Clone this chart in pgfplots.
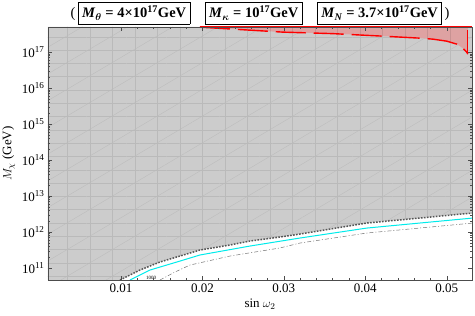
\documentclass[border=0pt]{standalone}
\usepackage{fontspec}
\setmainfont{Liberation Serif}
\usepackage{amsmath,bm}
\usepackage{pgfplots}
\pgfplotsset{compat=1.18}
\usetikzlibrary{patterns.meta}

\definecolor{regiongray}{RGB}{204,204,204}
\definecolor{meshgray}{RGB}{186,186,186}
\definecolor{pinkfill}{RGB}{222,162,162}
\definecolor{boundgray}{RGB}{85,85,85}
\definecolor{mcyan}{RGB}{0,235,235}

\newcommand{\pbox}[1]{\fbox{\textbf{#1}}}

\begin{document}
\begin{tikzpicture}
\useasboundingbox (-48pt,-36pt) rectangle (427pt,280pt);
\begin{axis}[
    scale only axis,
    width=424pt, height=253pt,
    xmin=0.00104, xmax=0.0531,
    ymode=log, ymin=4.65e10, ymax=5e17,
    scaled x ticks=false,
    xtick={0.01,0.02,0.03,0.04,0.05},
    xticklabels={0.01,0.02,0.03,0.04,0.05},
    minor x tick num=4,
    ytick={1e11,1e12,1e13,1e14,1e15,1e16,1e17},
    yticklabels={10\textsuperscript{11},10\textsuperscript{12},10\textsuperscript{13},10\textsuperscript{14},10\textsuperscript{15},10\textsuperscript{16},10\textsuperscript{17}},
    tick align=inside,
    major tick length=4pt, minor tick length=2pt,
    tick style={black!70, line width=0.5pt},
    axis line style={black!70, line width=0.6pt},
    ticklabel style={font=\fontsize{13}{15}\selectfont},
    label style={font=\fontsize{13}{15}\selectfont},
    xlabel={sin $\omega_2$},
    ylabel={$M_\chi$ (GeV)},
    axis on top,
]
% excluded region
\addplot[fill=regiongray, draw=none,
    postaction={pattern={Lines[angle=90,distance=22.5pt,line width=0.3pt]}, pattern color=meshgray},
    postaction={pattern={Lines[angle=0,distance=13.3pt,line width=0.3pt]}, pattern color=meshgray},
    postaction={pattern={Lines[angle=30.6,distance=23pt,line width=0.3pt]}, pattern color=meshgray}]
coordinates {
(0.00104,4.65e10) (0.00988,4.65e10) (0.01233,8.79e10) (0.01479,1.47e11)
(0.01724,2.15e11) (0.01969,3.16e11) (0.02337,4.36e11) (0.02583,5.62e11)
(0.02951,7.26e11) (0.03196,8.79e11) (0.04018,1.78e12) (0.04669,2.45e12)
(0.0531,3.37e12) (0.0531,5e17) (0.00104,5e17)} --cycle;

% red region
\addplot[fill=pinkfill, draw=none,
    postaction={pattern={Lines[angle=90,distance=22.5pt,line width=0.3pt]}, pattern color=pinkfill!90!black}]
coordinates {
(0.01969,4.94e17) (0.02374,4.36e17) (0.02988,3.60e17) (0.03601,3.27e17)
(0.04215,2.78e17) (0.04669,2.45e17) (0.04828,2.30e17) (0.05000,2.02e17)
(0.05123,1.67e17) (0.05196,1.29e17) (0.05245,1.0e17) (0.05258,8.8e16)
(0.05258,5e17) (0.01969,5e17)} --cycle;

\addplot[red, line width=1.4pt, dash pattern=on 30pt off 8pt]
coordinates {
(0.01969,4.94e17) (0.02374,4.36e17) (0.02988,3.60e17) (0.03601,3.27e17)
(0.04215,2.78e17) (0.04669,2.45e17) (0.04828,2.30e17) (0.05000,2.02e17)
(0.05123,1.67e17) (0.05196,1.29e17) (0.05245,1.0e17) (0.05258,8.8e16)};
\addplot[red, line width=1.4pt] coordinates {(0.01969,5e17) (0.0531,5e17)};
\addplot[red, line width=1.4pt] coordinates {(0.05258,8.8e16) (0.05258,4.2e17)};

% boundary curves
\addplot[boundgray, line width=1.5pt, dash pattern=on 1.6pt off 1.4pt]
coordinates {
(0.00988,4.65e10) (0.01233,8.79e10) (0.01479,1.47e11)
(0.01724,2.15e11) (0.01969,3.16e11) (0.02337,4.36e11) (0.02583,5.62e11)
(0.02951,7.26e11) (0.03196,8.79e11) (0.04018,1.78e12) (0.04669,2.45e12)
(0.0531,3.37e12)};
\addplot[mcyan, line width=1pt]
coordinates {
(0.0111,4.65e10) (0.01356,8.79e10) (0.01724,1.56e11) (0.01969,2.30e11)
(0.02583,4.08e11) (0.03196,6.81e11) (0.04018,1.29e12) (0.04669,1.78e12)
(0.0532,2.45e12)};
\addplot[black!55, line width=0.5pt, dash pattern=on 4pt off 2pt on 1pt off 2pt]
coordinates {
(0.01479,4.65e10) (0.01663,7.74e10) (0.01847,1.21e11) (0.02337,2.15e11)
(0.02951,3.60e11) (0.03196,4.94e11) (0.04018,9.38e11) (0.0532,1.78e12)};

\node[font=\fontsize{5}{6}\selectfont, inner sep=0pt] at (axis cs:0.0137,5.4e10) {1000};
\coordinate (topmid) at (rel axis cs:0.5,1);
\end{axis}
\node[anchor=south, inner sep=0pt, yshift=2.5pt, font=\fontsize{14.5}{16}\selectfont]
  at (topmid)
  {\setlength{\fboxsep}{3.5pt}\setlength{\fboxrule}{0.7pt}%
   (\,\pbox{\textit{M}\textsubscript{$\bm\theta$} = 4×10\textsuperscript{17}GeV}\quad
   \pbox{\textit{M}\textsubscript{$\bm\kappa$} = 10\textsuperscript{17}GeV}\quad
   \pbox{\textit{M}\textsubscript{\textit{N}} = 3.7×10\textsuperscript{17}GeV}\,)};
\end{tikzpicture}
\end{document}
